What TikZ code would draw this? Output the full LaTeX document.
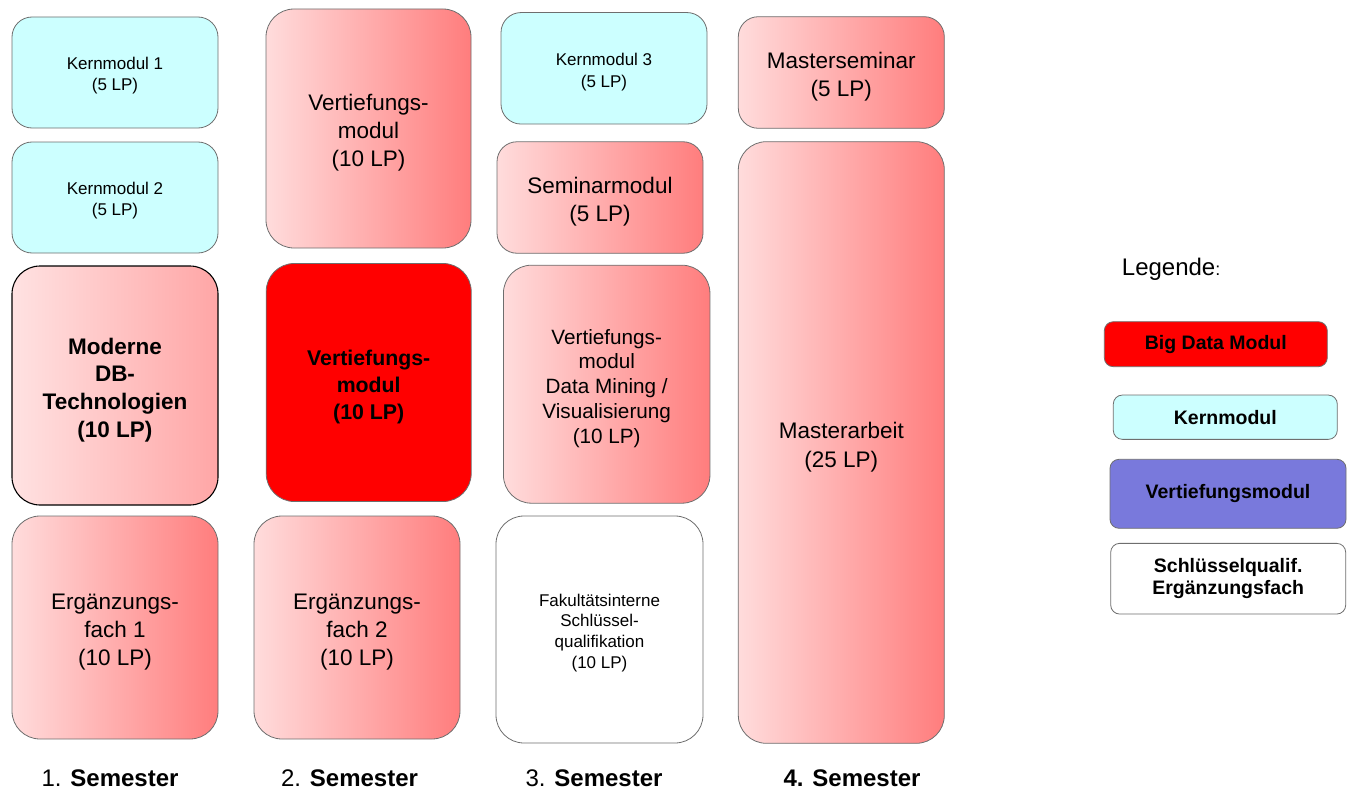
\documentclass[tikz,border=0pt]{standalone}
\usepackage{fontspec}
\setmainfont{Liberation Sans}
\definecolor{bordergray}{RGB}{110,110,110}
\definecolor{kerncyan}{RGB}{204,255,255}
\definecolor{redlight}{RGB}{255,220,220}
\definecolor{reddark}{RGB}{255,125,125}
\definecolor{mdlight}{RGB}{255,226,226}
\definecolor{mddark}{RGB}{255,166,166}
\definecolor{bigred}{RGB}{255,0,0}
\definecolor{vertblue}{RGB}{121,121,220}
\newcommand{\fsz}[2]{\fontsize{#1}{#2}\selectfont}
\newcommand{\Tup}{\rule{0pt}{1.12em}}
\tikzset{
  modbox/.style={draw=bordergray, line width=0.8pt, inner sep=0pt, align=center, rounded corners=28pt},
  shortbox/.style={modbox, rounded corners=20pt},
  kernbox/.style={shortbox, fill=kerncyan, font=\fsz{17}{21}},
  gradbox/.style={modbox, left color=redlight, right color=reddark, font=\fsz{22.5}{28}},
  legbox/.style={draw=bordergray, line width=0.8pt, inner sep=0pt, align=center, rounded corners=9pt, font=\fsz{19.5}{23}\bfseries},
  semlabel/.style={anchor=base, font=\fsz{24}{28}},
}
\begin{document}
\begin{tikzpicture}[x=1pt,y=-1pt]
\useasboundingbox (0,0) rectangle (1347,792);
% column 1
\node[kernbox, minimum width=206pt, minimum height=111pt] (k1) at (115,72.5) {\Tup Kernmodul 1\\(5 LP)};
\node[kernbox, minimum width=206pt, minimum height=111pt] (k2) at (115,197.5) {\Tup Kernmodul 2\\(5 LP)};
\node[modbox, draw=black, line width=1.1pt, left color=mdlight, right color=mddark, font=\fsz{22.5}{27.8}\bfseries, minimum width=206pt, minimum height=239pt] (mdb) at (115,385.5) {\Tup Moderne\\DB-\\Technologien\\(10 LP)};
\node[gradbox, minimum width=206pt, minimum height=223pt] (e1) at (115,627.5) {\Tup Ergänzungs-\\fach 1\\(10 LP)};
% column 2
\node[gradbox, minimum width=205pt, minimum height=239pt] (v2) at (368.5,128.5) {\Tup Vertiefungs-\\modul\\(10 LP)};
\node[modbox, fill=bigred, font=\fsz{21.3}{27}\bfseries, minimum width=205pt, minimum height=238pt] (v2r) at (368.7,382.5) {\Tup Vertiefungs-\\modul\\(10 LP)};
\node[gradbox, minimum width=206pt, minimum height=223pt] (e2) at (357,627.5) {\Tup Ergänzungs-\\fach 2\\(10 LP)};
% column 3
\node[kernbox, font=\fsz{17}{22}, minimum width=206pt, minimum height=111.5pt] (k3) at (604,68.3) {\Tup Kernmodul 3\\(5 LP)};
\node[gradbox, shortbox, minimum width=206pt, minimum height=111.5pt] (sem) at (600,197.5) {\Tup Seminarmodul\\(5 LP)};
\node[gradbox, font=\fsz{20.7}{24.8}, minimum width=206.5pt, minimum height=238pt] (vdm) at (606.7,384.2) {\Tup Vertiefungs-\\modul\\Data Mining /\\Visualisierung\\(10 LP)};
\node[modbox, fill=white, font=\fsz{17}{20.7}, minimum width=207pt, minimum height=227pt] (fak) at (599.5,629.5) {\Tup Fakultätsinterne\\Schlüssel-\\qualifikation\\(10 LP)};
% column 4
\node[gradbox, shortbox, minimum width=206pt, minimum height=111.6pt] (ms) at (841.3,72.5) {\Tup Masterseminar\\(5 LP)};
\node[gradbox, font=\fsz{22.5}{29}, minimum width=206pt, minimum height=601.6pt] (ma) at (841.3,442.5) {\Tup Masterarbeit\\(25 LP)};
% semester labels
\node[semlabel] (s1) at (110,786) {1. \textbf{Semester}};
\node[semlabel] (s2) at (349.5,786) {2. \textbf{Semester}};
\node[semlabel] (s3) at (594,786) {3. \textbf{Semester}};
\node[semlabel] (s4) at (852,786) {\textbf{4. Semester}};
% legend
\node[anchor=base west, inner sep=0pt, font=\fsz{24}{28}] (leg) at (1121.7,275) {Legende{\fsz{18}{20}:}};
\node[legbox, fill=bigred, minimum width=223pt, minimum height=45pt] (lbd) at (1215.8,344.2) {Big Data Modul};
\node[legbox, fill=kerncyan, minimum width=224pt, minimum height=44.3pt] (lk) at (1225.3,417.2) {Kernmodul};
\node[legbox, fill=vertblue, minimum width=236pt, minimum height=69pt] (lv) at (1228,493.8) {Vertiefungsmodul};
\node[legbox, fill=white, font=\fsz{19.5}{22.5}\bfseries, minimum width=235pt, minimum height=70.7pt] (ls) at (1228.2,578.7) {Schlüsselqualif.\\Ergänzungsfach};
\end{tikzpicture}
\end{document}
